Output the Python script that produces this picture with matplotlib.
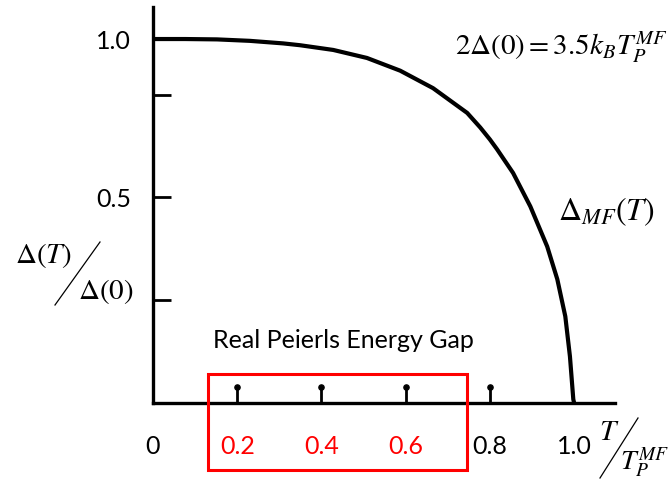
import matplotlib
matplotlib.use("Agg")
import matplotlib.pyplot as plt
from matplotlib.patches import Rectangle
from matplotlib.lines import Line2D

plt.rcParams["mathtext.fontset"] = "stix"

# mean-field gap curve
t_ratio = [0.0, 0.076, 0.152, 0.230, 0.309, 0.349, 0.428, 0.508, 0.587, 0.665,
           0.746, 0.777, 0.800, 0.817, 0.855, 0.896, 0.936, 0.960, 0.979,
           0.990, 0.998, 1.0]
gap_ratio = [1.0, 1.0, 0.999, 0.995, 0.988, 0.983, 0.970, 0.948, 0.913, 0.865,
             0.797, 0.757, 0.724, 0.697, 0.632, 0.540, 0.430, 0.340, 0.238,
             0.128, 0.010, 0.0]

x_ticks = [0.0, 0.2, 0.4, 0.6, 0.8, 1.0]
x_labels = ["0", "0.2", "0.4", "0.6", "0.8", "1.0"]
x_label_colors = ["black", "red", "red", "red", "black", "black"]
pin_ticks = [0.2, 0.4, 0.6, 0.8]

# y ticks sit where the hand-drawn original put them
y_ticks = [0.284, 0.565, 0.846, 1.0]
y_labels = ["", "0.5", "", "1.0"]

W, H = 669, 480
fig = plt.figure(figsize=(W / 100, H / 100), dpi=100)
ax = fig.add_axes([153 / W, 77 / H, 462 / W, 396 / H])


def px(x, y):
    return x / W, 1 - y / H


ax.plot(t_ratio, gap_ratio, color="black", lw=3.0, solid_capstyle="round",
        solid_joinstyle="round")

ax.set_xlim(0, 1.097)
ax.set_ylim(0, 1.088)
for s in ("top", "right"):
    ax.spines[s].set_visible(False)
for s in ("left", "bottom"):
    ax.spines[s].set_linewidth(2.4)

tick_font = dict(family=["Lato", "DejaVu Sans"], size=18)
ax.set_yticks(y_ticks)
ax.set_yticklabels(y_labels, **tick_font)
ax.tick_params(axis="y", direction="in", length=13, width=2, pad=16)

ax.set_xticks(x_ticks)
ax.set_xticklabels(x_labels, **tick_font)
for lab, c in zip(ax.get_xticklabels(), x_label_colors):
    lab.set_color(c)
ax.tick_params(axis="x", direction="in", length=0, pad=23)

# little pin-shaped ticks on the T axis
ax.vlines(pin_ticks, 0, 0.045, color="black", lw=2)
ax.scatter(pin_ticks, [0.045] * len(pin_ticks), s=14, color="black", zorder=3)

# annotations
fig.text(*px(561, 47), r"$2\Delta\left(0\right)=3.5k_BT_P^{MF}$", fontsize=21,
         ha="center", va="center")
fig.text(*px(606, 212), r"$\Delta_{MF}(T)$", fontsize=23, ha="center", va="center")
fig.text(*px(343, 340), "Real Peierls Energy Gap", family=["Lato", "DejaVu Sans"],
         fontsize=18, ha="center", va="center")

# y label Δ(T) / Δ(0)
fig.text(*px(44, 256), r"$\Delta(T)$", fontsize=21, ha="center", va="center")
fig.text(*px(106, 291), r"$\Delta(0)$", fontsize=21, ha="center", va="center")
fig.add_artist(Line2D([55 / W, 100 / W], [1 - 305 / H, 1 - 242 / H], color="black", lw=0.9))

# x label T / T_P^MF
fig.text(*px(609, 432), r"$T$", fontsize=21, ha="center", va="center")
fig.text(*px(645, 463), r"$T_P^{MF}$", fontsize=20, ha="center", va="center")
fig.add_artist(Line2D([600 / W, 638 / W], [1 - 478 / H, 1 - 418 / H], color="black", lw=0.9))

# red highlight box
fig.add_artist(Rectangle(px(208, 470), 259 / W, 96 / H, fill=False, edgecolor="red", lw=2.2))

fig.savefig("out.png", dpi=100)
